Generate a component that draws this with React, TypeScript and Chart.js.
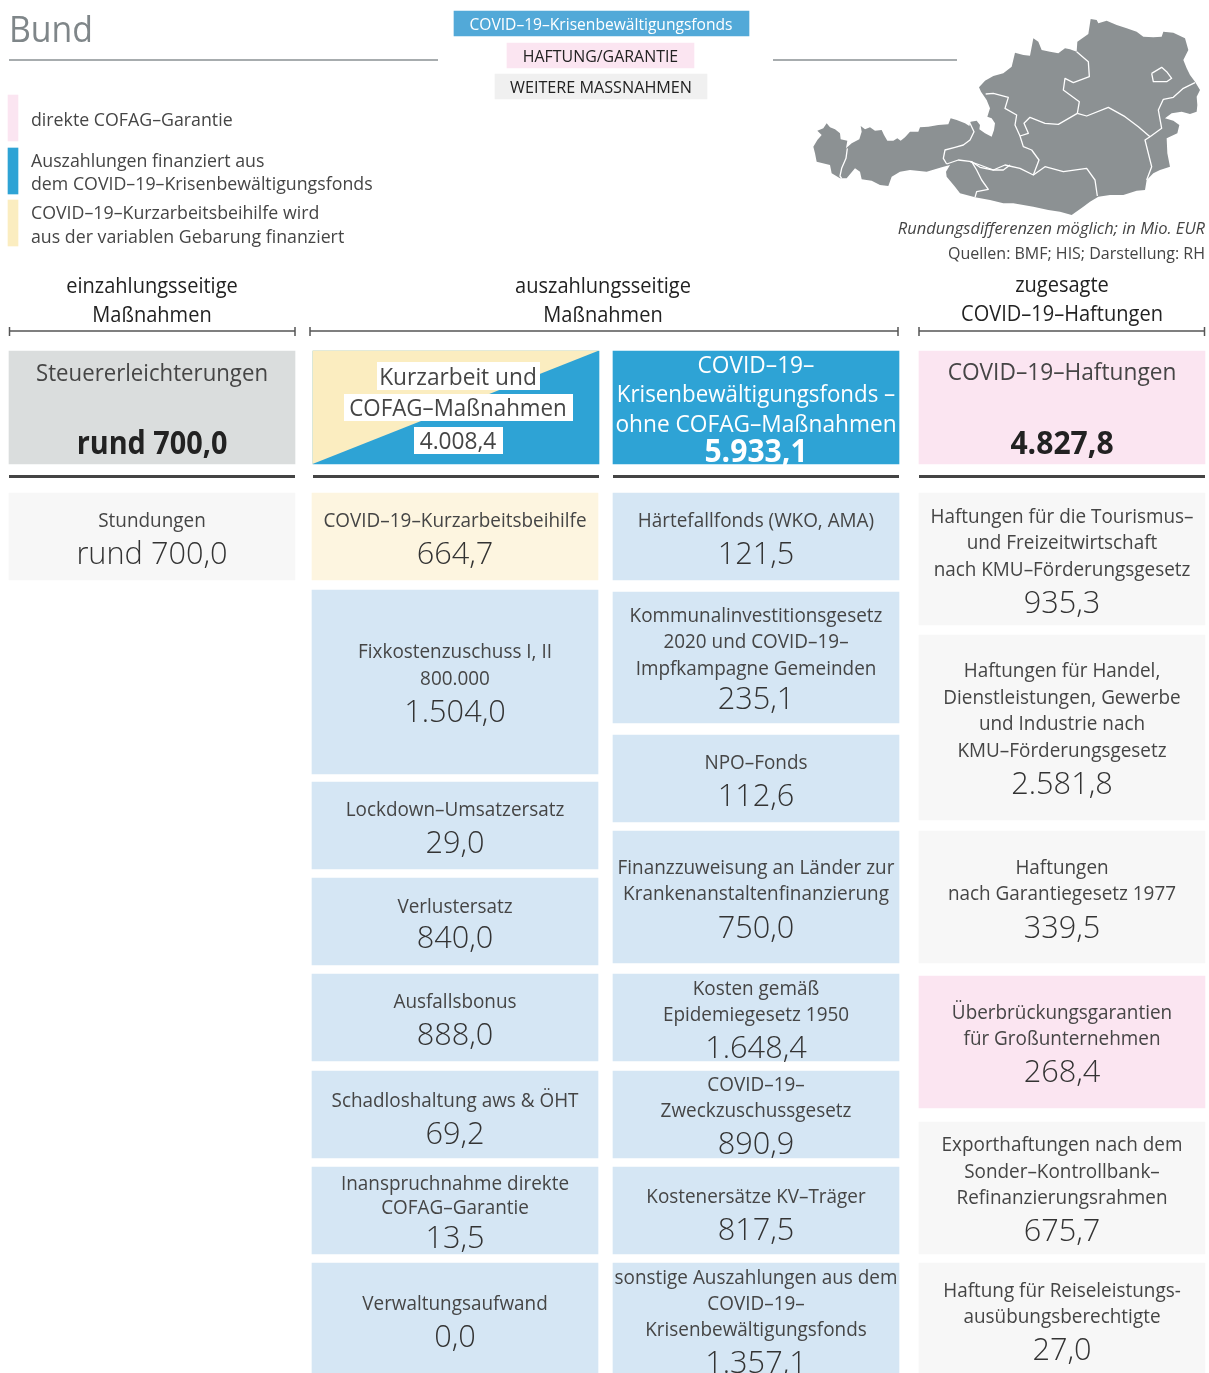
import React, { useEffect, useRef } from "react";
import { Chart, registerables } from "chart.js";

Chart.register(...registerables);

// ---------- data ----------
const einzahlungLabels = [["Stundungen"]];
const einzahlungValues = [700.0];
const kurzarbeitLabels = [
  ["COVID–19–Kurzarbeitsbeihilfe"],
  ["Fixkostenzuschuss I, II", "800.000"],
  ["Lockdown–Umsatzersatz"],
  ["Verlustersatz"],
  ["Ausfallsbonus"],
  ["Schadloshaltung aws & ÖHT"],
  ["Inanspruchnahme direkte", "COFAG–Garantie"],
  ["Verwaltungsaufwand"],
];
const kurzarbeitValues = [664.7, 1504.0, 29.0, 840.0, 888.0, 69.2, 13.5, 0.0];
const fondsLabels = [
  ["Härtefallfonds (WKO, AMA)"],
  ["Kommunalinvestitionsgesetz", "2020 und COVID–19–", "Impfkampagne Gemeinden"],
  ["NPO–Fonds"],
  ["Finanzzuweisung an Länder zur", "Krankenanstaltenfinanzierung"],
  ["Kosten gemäß", "Epidemiegesetz 1950"],
  ["COVID–19–", "Zweckzuschussgesetz"],
  ["Kostenersätze KV–Träger"],
  ["sonstige Auszahlungen aus dem", "COVID–19–", "Krisenbewältigungsfonds"],
];
const fondsValues = [121.5, 235.1, 112.6, 750.0, 1648.4, 890.9, 817.5, 1357.1];
const haftungLabels = [
  ["Haftungen für die Tourismus–", "und Freizeitwirtschaft", "nach KMU–Förderungsgesetz"],
  ["Haftungen für Handel,", "Dienstleistungen, Gewerbe", "und Industrie nach", "KMU–Förderungsgesetz"],
  ["Haftungen", "nach Garantiegesetz 1977"],
  ["Überbrückungsgarantien", "für Großunternehmen"],
  ["Exporthaftungen nach dem", "Sonder–Kontrollbank–", "Refinanzierungsrahmen"],
  ["Haftung für Reiseleistungs-", "ausübungsberechtigte"],
];
const haftungValues = [935.3, 2581.8, 339.5, 268.4, 675.7, 27.0];
const totalTitles = [
  ["Steuererleichterungen"],
  ["Kurzarbeit und", "COFAG–Maßnahmen"],
  ["COVID–19–", "Krisenbewältigungsfonds –", "ohne COFAG–Maßnahmen"],
  ["COVID–19–Haftungen"],
];
const totalValues = [700.0, 4008.4, 5933.1, 4827.8];
const columnHeads = [
  ["einzahlungsseitige", "Maßnahmen"],
  ["auszahlungsseitige", "Maßnahmen"],
  ["zugesagte", "COVID–19–Haftungen"],
];
const tagLabels = ["COVID–19–Krisenbewältigungsfonds", "HAFTUNG/GARANTIE", "WEITERE MASSNAHMEN"];
const legendLabels = [
  ["direkte COFAG–Garantie"],
  ["Auszahlungen finanziert aus", "dem COVID–19–Krisenbewältigungsfonds"],
  ["COVID–19–Kurzarbeitsbeihilfe wird", "aus der variablen Gebarung finanziert"],
];
const noteLabel = "Rundungsdifferenzen möglich; in Mio. EUR";
const sourceLabel = "Quellen: BMF; HIS; Darstellung: RH";
const titleLabel = "Bund";

// ---------- layout ----------
const W = 1209;
const H = 1373;
const BLUE = "#2ea3d5";
const PINK = "#fbe5f1";
const YELLOW = "#fbedc0";
const GREY = "#f7f7f7";
const LBLUE = "#d5e6f4";
const INK = "#454545";
const F = '"Open Sans"';

const colX: [number, number][] = [[9, 295], [312, 598], [613, 899], [919, 1205]];
const topX: [number, number][] = [[9, 295], [313, 599], [613, 899], [919, 1205]];
const einzBox = [[493, 580]];
const einzY = [[[520], 553]];
const kurzBox = [[493, 580], [590, 774], [782, 869], [878, 965], [974, 1061], [1071, 1158], [1167, 1254], [1263, 1373]];
const kurzY = [[[520], 553], [[651, 678], 711], [[809], 842], [[906], 937], [[1001], 1034], [[1100], 1133], [[1183, 1207], 1237], [[1303], 1336]];
const fondBox = [[493, 580], [592, 723], [735, 822], [831, 963], [974, 1061], [1071, 1158], [1167, 1254], [1263, 1373]];
const fondY = [[[520], 553], [[615, 641, 668], 698], [[762], 795], [[867, 893], 927], [[988, 1014], 1047], [[1084, 1110], 1143], [[1196], 1229], [[1277, 1303, 1329], 1362]];
const haftBox = [[493, 625], [635, 820], [831, 963], [976, 1108], [1122, 1254], [1263, 1373]];
const haftY = [[[516, 542, 569], 602], [[670, 697, 723, 750], 783], [[867, 893], 927], [[1012, 1038], 1071], [[1144, 1171, 1197], 1230], [[1290, 1316], 1349]];
const haftCol = [GREY, GREY, GREY, PINK, GREY, GREY];

const rects: [number, number, number, number, string][] = [
  [454, 749, 11, 36, "#52a9d8"],
  [507, 694, 43, 68, PINK],
  [495, 707, 74, 99, "#f0f0f0"],
  [8, 18, 95, 141, PINK],
  [8, 18, 148, 194, BLUE],
  [8, 18, 200, 246, YELLOW],
  [9, 295, 351, 464, "#dadddd"],
  [313, 599, 351, 464, BLUE],
  [613, 899, 351, 464, BLUE],
  [919, 1205, 351, 464, PINK],
];
einzBox.forEach(b => rects.push([colX[0][0], colX[0][1], b[0], b[1], GREY]));
kurzBox.forEach((b, i) => rects.push([colX[1][0], colX[1][1], b[0], b[1], i === 0 ? "#fdf5e0" : LBLUE]));
fondBox.forEach(b => rects.push([colX[2][0], colX[2][1], b[0], b[1], LBLUE]));
haftBox.forEach((b, i) => rects.push([colX[3][0], colX[3][1], b[0], b[1], haftCol[i]]));

const W2 = (p: number[]) => [810 + p[0] / 3, 90 + p[1] / 3];
const E2 = (p: number[]) => [970 + p[0] / 3, 10 + p[1] / 3];
const outlineNorthWest = [[10,170],[22,150],[35,135],[22,122],[40,115],[50,100],[60,112],[75,118],[90,130],[92,148],[112,152],[108,175],[125,160],[148,148],[155,125],[152,108],[165,118],[180,112],[195,122],[215,120],[222,135],[232,152],[250,152],[262,145],[272,152],[285,142],[300,125],[325,125],[330,112],[355,110],[385,105],[415,103],[422,85],[440,90],[465,100],[478,108],[482,95],[500,92],[510,105],[508,118],[525,130],[545,140],[552,120],[555,100],[545,85],[532,80],[540,55],[530,30],[513,5]];
const outlineEast = [[27,232],[45,212],[70,198],[100,190],[125,170],[135,128],[160,135],[180,137],[190,85],[205,95],[215,120],[240,125],[265,130],[285,115],[300,118],[320,125],[322,95],[355,72],[362,27],[380,30],[385,40],[410,32],[440,45],[470,55],[500,65],[520,80],[550,82],[575,80],[580,65],[610,68],[645,85],[655,120],[640,150],[650,175],[660,195],[675,215],[690,240],[680,260],[682,285],[680,305],[660,312],[635,305],[605,310],[585,325],[610,332],[628,345],[622,370],[590,385],[592,430],[600,470],[570,480],[550,490],[530,510],[525,540],[500,542],[460,555],[420,555],[385,560],[360,575],[340,590],[305,615],[270,605],[235,600],[190,590],[130,580]];
const outlineSouthWest = [[580,340],[540,330],[495,322],[450,310],[435,290],[410,260],[408,245],[420,225],[395,232],[350,245],[300,240],[270,245],[245,260],[235,288],[210,285],[185,272],[155,268],[150,245],[135,235],[110,265],[90,265],[65,250],[60,225],[20,215],[15,190]];
const mapOutline = [...outlineNorthWest.map(W2), ...outlineEast.map(E2), ...outlineSouthWest.map(W2)];
const bordersWest = [
  [[112,175],[108,205],[95,235],[90,258],[95,265]],
  [[480,100],[492,125],[480,150],[460,165],[435,172],[405,180],[400,205],[410,222]],
  [[410,222],[445,210],[485,215],[510,232],[550,240],[580,240],[600,225]],
  [[485,215],[500,240],[515,270],[535,298],[500,305],[495,322]],
];
const bordersEast = [
  [[0,455],[30,465],[70,480],[105,465],[150,475],[190,495],[225,470],[280,485],[350,475],[375,510],[382,558]],
  [[190,495],[207,450],[185,420],[160,410],[150,378],[175,370],[162,340],[180,322],[225,340],[265,343],[322,310]],
  [[47,252],[70,250],[115,262],[105,295],[140,315],[135,345],[150,378]],
  [[322,310],[328,275],[280,240],[285,205],[310,218],[358,200],[355,155],[320,125]],
  [[322,310],[350,318],[415,292],[465,320],[505,350],[540,380]],
  [[540,380],[575,355],[565,300],[580,268],[610,262],[640,235],[675,218]],
  [[540,380],[525,390],[545,470],[530,510]],
  [[545,190],[575,172],[590,185],[605,205],[590,215],[550,215],[545,190]],
];
const mapBorders = [...bordersWest.map(b => b.map(W2)), ...bordersEast.map(b => b.map(E2))];

const fmt = (v: number) => v.toLocaleString("de-DE", { minimumFractionDigits: 1, maximumFractionDigits: 1 });

const overlay = {
  id: "overlay",
  afterDatasetsDraw(chart: any) {
    const ctx: CanvasRenderingContext2D = chart.ctx;
    const sx = (v: number) => chart.scales.x.getPixelForValue(v);
    const sy = (v: number) => chart.scales.y.getPixelForValue(v);
    const SQ = 0.945;
    const text = (s: string, x: number, y: number, size: number, color = INK, o: any = {}) => {
      ctx.font = `${o.italic ? "italic " : ""}${o.weight ?? 400} ${size}px ${F}, sans-serif`;
      ctx.fillStyle = color;
      ctx.textAlign = o.align ?? "center";
      ctx.textBaseline = "middle";
      const w = ctx.measureText(s).width * (o.sq ?? SQ);
      ctx.fillText(s, sx(x), sy(y + 1.5), w);
    };
    const line = (x0: number, y0: number, x1: number, y1: number, color: string, lw: number) => {
      ctx.strokeStyle = color;
      ctx.lineWidth = lw;
      ctx.beginPath();
      ctx.moveTo(sx(x0), sy(y0));
      ctx.lineTo(sx(x1), sy(y1));
      ctx.stroke();
    };
    ctx.save();

    // header
    text(titleLabel, 9, 30, 36, "#7f8689", { align: "left", sq: 0.94 });
    line(9, 60, 438, 60, "#8a9093", 1.5);
    line(773, 60, 957, 60, "#8a9093", 1.5);
    text(tagLabels[0], 601, 24, 16.5, "#ffffff");
    text(tagLabels[1], 600.5, 55.5, 16.5, "#222222", { sq: 0.965 });
    text(tagLabels[2], 601, 86.5, 16.5, "#222222", { sq: 0.98 });

    // legend
    const legendY = [[119], [160, 183], [212, 236]];
    legendLabels.forEach((ls, i) => ls.forEach((l, j) => text(l, 31, legendY[i][j], 19, INK, { align: "left", sq: 0.935 })));

    // map
    ctx.fillStyle = "#8c9193";
    ctx.beginPath();
    mapOutline.forEach(([x, y], i) => {
      const px = sx(x), py = sy(y);
      if (i) ctx.lineTo(px, py); else ctx.moveTo(px, py);
    });
    ctx.closePath();
    ctx.fill();
    ctx.strokeStyle = "#ffffff";
    ctx.lineWidth = 1.3;
    ctx.lineJoin = "round";
    mapBorders.forEach(b => {
      ctx.beginPath();
      b.forEach(([x, y], i) => {
        const px = sx(x), py = sy(y);
        if (i) ctx.lineTo(px, py); else ctx.moveTo(px, py);
      });
      ctx.stroke();
    });
    text(noteLabel, 1205, 228, 16.5, "#444444", { align: "right", italic: true, sq: 1.02 });
    text(sourceLabel, 1205, 253, 16, "#444444", { align: "right", sq: 1.0 });

    // column heads
    const headX = [152, 603, 1062];
    const headY = [[285.5, 314.5], [285.5, 314.5], [284.5, 313.5]];
    columnHeads.forEach((c, i) => c.forEach((l, j) => text(l, headX[i], headY[i][j], 22, "#222222", { sq: 0.91 })));
    const brackets = [[9.5, 295], [310, 898], [919, 1204.5]];
    brackets.forEach(([a, b]) => {
      line(a, 331, b, 331, "#555555", 1.5);
      line(a, 327, a, 336, "#555555", 1.5);
      line(b, 327, b, 336, "#555555", 1.5);
    });

    // yellow half of the Kurzarbeit tile
    ctx.fillStyle = YELLOW;
    ctx.beginPath();
    ctx.moveTo(sx(312.5), sy(350.5));
    ctx.lineTo(sx(599), sy(350.5));
    ctx.lineTo(sx(312.5), sy(464));
    ctx.closePath();
    ctx.fill();
    ctx.fillStyle = "#ffffff";
    [[377, 540, 362, 390], [344, 573, 394, 421], [414, 503, 427, 454]].forEach(([a, b, c, d]) =>
      ctx.fillRect(sx(a), sy(c), sx(b) - sx(a), sy(d) - sy(c))
    );

    // totals
    text(totalTitles[0][0], 152, 373, 24, INK, { sq: 0.925 });
    text(`rund ${fmt(totalValues[0])}`, 152, 443, 32, "#222222", { weight: 700, sq: 0.9 });
    text(totalTitles[1][0], 458, 377, 24, INK);
    text(totalTitles[1][1], 458, 408, 24, INK, { sq: 0.93 });
    text(fmt(totalValues[1]), 458, 441, 24, INK);
    text(totalTitles[2][0], 756, 365, 24, "#ffffff");
    text(totalTitles[2][1], 756, 394, 24, "#ffffff", { sq: 0.93 });
    text(totalTitles[2][2], 756, 424, 24, "#ffffff");
    text(fmt(totalValues[2]), 756, 451, 32, "#ffffff", { weight: 700, sq: 0.94 });
    text(totalTitles[3][0], 1062, 372, 24, INK);
    text(fmt(totalValues[3]), 1062, 443, 32, "#222222", { weight: 700, sq: 0.94 });
    topX.forEach(([a, b]) => line(a, 476.5, b, 476.5, "#444444", 3));

    // tiles
    const tileText = (labels: string[][], values: number[], ys: any[], cx: number, prefix = "") => {
      labels.forEach((ls, i) => {
        ls.forEach((l, j) => text(l, cx, ys[i][0][j], 20, INK));
        text(prefix + fmt(values[i]), cx, ys[i][1] + 0.5, 32, "#333333", { weight: 300, sq: 0.96 });
      });
    };
    tileText(einzahlungLabels, einzahlungValues, einzY, 152, "rund ");
    tileText(kurzarbeitLabels, kurzarbeitValues, kurzY, 455);
    tileText(fondsLabels, fondsValues, fondY, 756);
    tileText(haftungLabels, haftungValues, haftY, 1062);
    ctx.restore();
  },
};

export default function App() {
  const ref = useRef<HTMLCanvasElement>(null);
  useEffect(() => {
    document.body.style.margin = "0";
    const chart = new Chart(ref.current!, {
      type: "bar",
      data: {
        datasets: rects.map(([x0, x1, y0, y1, c]) => ({
          data: [{ x: (x0 + x1) / 2, y: [y0, y1] }],
          backgroundColor: c,
          barThickness: x1 - x0,
          grouped: false,
          borderWidth: 0,
          borderSkipped: false,
        })) as any,
      },
      options: {
        responsive: false,
        animation: false,
        layout: { padding: 0 },
        plugins: { legend: { display: false }, tooltip: { enabled: false } },
        scales: {
          x: { type: "linear", min: 0, max: W, display: false, offset: false },
          y: { type: "linear", min: 0, max: H, reverse: true, display: false },
        },
      },
      plugins: [overlay],
    });
    return () => chart.destroy();
  }, []);
  return <canvas ref={ref} width={W} height={H} style={{ display: "block" }} />;
}
